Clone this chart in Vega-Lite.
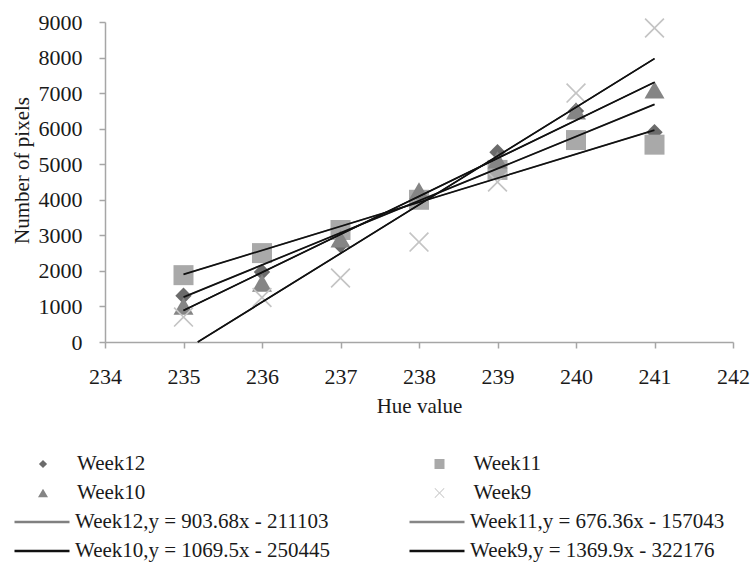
{
  "$schema": "https://vega.github.io/schema/vega-lite/v6.json",
  "width": 628,
  "height": 320,
  "autosize": "none",
  "padding": {"left": 105, "top": 22, "right": 18, "bottom": 220},
  "background": "white",
  "config": {
    "view": {"stroke": null},
    "font": "Liberation Serif",
    "axis": {"grid": false}
  },
  "datasets": {
    "points": [
      {"series": "Week12", "hue": 235, "pixels": 1300},
      {"series": "Week12", "hue": 236, "pixels": 1970},
      {"series": "Week12", "hue": 237, "pixels": 2730},
      {"series": "Week12", "hue": 238, "pixels": 4080},
      {"series": "Week12", "hue": 239, "pixels": 5340},
      {"series": "Week12", "hue": 240, "pixels": 6500},
      {"series": "Week12", "hue": 241, "pixels": 5900},
      {"series": "Week11", "hue": 235, "pixels": 1880},
      {"series": "Week11", "hue": 236, "pixels": 2500},
      {"series": "Week11", "hue": 237, "pixels": 3150},
      {"series": "Week11", "hue": 238, "pixels": 4000},
      {"series": "Week11", "hue": 239, "pixels": 4840},
      {"series": "Week11", "hue": 240, "pixels": 5680},
      {"series": "Week11", "hue": 241, "pixels": 5550},
      {"series": "Week10", "hue": 235, "pixels": 1010},
      {"series": "Week10", "hue": 236, "pixels": 1660},
      {"series": "Week10", "hue": 237, "pixels": 2900},
      {"series": "Week10", "hue": 238, "pixels": 4250},
      {"series": "Week10", "hue": 239, "pixels": 5120},
      {"series": "Week10", "hue": 240, "pixels": 6500},
      {"series": "Week10", "hue": 241, "pixels": 7090},
      {"series": "Week9", "hue": 235, "pixels": 700},
      {"series": "Week9", "hue": 236, "pixels": 1250},
      {"series": "Week9", "hue": 237, "pixels": 1800},
      {"series": "Week9", "hue": 238, "pixels": 2810},
      {"series": "Week9", "hue": 239, "pixels": 4500},
      {"series": "Week9", "hue": 240, "pixels": 7000},
      {"series": "Week9", "hue": 241, "pixels": 8830}
    ],
    "trends": [
      {"equation": "Week12,y = 903.68x - 211103", "hue": 235, "pixels": 1261.8},
      {"equation": "Week12,y = 903.68x - 211103", "hue": 241, "pixels": 6683.9},
      {"equation": "Week11,y = 676.36x - 157043", "hue": 235, "pixels": 1901.6},
      {"equation": "Week11,y = 676.36x - 157043", "hue": 241, "pixels": 5959.8},
      {"equation": "Week10,y = 1069.5x - 250445", "hue": 235, "pixels": 887.5},
      {"equation": "Week10,y = 1069.5x - 250445", "hue": 241, "pixels": 7304.5},
      {"equation": "Week9,y = 1369.9x - 322176", "hue": 235.182, "pixels": 0},
      {"equation": "Week9,y = 1369.9x - 322176", "hue": 241, "pixels": 7969.9}
    ]
  },
  "resolve": {
    "scale": {"color": "independent", "shape": "independent"}
  },
  "encoding": {
    "x": {
      "field": "hue",
      "type": "quantitative",
      "scale": {"domain": [234, 242], "nice": false, "zero": false},
      "axis": {
        "values": [234, 235, 236, 237, 238, 239, 240, 241, 242],
        "format": "d",
        "title": "Hue value",
        "titleFontSize": 21,
        "titleFontWeight": "normal",
        "titleColor": "#1a1a1a",
        "titlePadding": 8,
        "labelFontSize": 22,
        "labelColor": "#1a1a1a",
        "labelPadding": 18,
        "labelFlush": false,
        "labelOverlap": false,
        "domainColor": "#a6a6a6",
        "domainWidth": 1.5,
        "tickColor": "#a6a6a6",
        "tickWidth": 1.5,
        "tickSize": 6
      }
    },
    "y": {
      "field": "pixels",
      "type": "quantitative",
      "scale": {"domain": [0, 9000], "nice": false},
      "axis": {
        "values": [0, 1000, 2000, 3000, 4000, 5000, 6000, 7000, 8000, 9000],
        "format": "d",
        "title": "Number of pixels",
        "titleFontSize": 21,
        "titleFontWeight": "normal",
        "titleColor": "#1a1a1a",
        "titlePadding": 6,
        "titleY": 148,
        "labelFontSize": 22,
        "labelColor": "#1a1a1a",
        "labelPadding": 17,
        "labelFlush": false,
        "labelOverlap": false,
        "domainColor": "#a6a6a6",
        "domainWidth": 1.5,
        "tickColor": "#a6a6a6",
        "tickWidth": 1.5,
        "tickSize": 6
      }
    }
  },
  "layer": [
    {
      "data": {"name": "points"},
      "mark": {"type": "point", "filled": true, "opacity": 1, "strokeWidth": 0, "size": 400},
      "encoding": {
        "shape": {
          "field": "series",
          "type": "nominal",
          "scale": {
            "domain": ["Week12", "Week10", "Week11", "Week9"],
            "range": [
              "M-0.82,0L0,-0.82L0.82,0L0,0.82Z",
              "triangle-up",
              "square",
              "M-1,-0.88L-0.88,-1L0,-0.12L0.88,-1L1,-0.88L0.12,0L1,0.88L0.88,1L0,0.12L-0.88,1L-1,0.88L-0.12,0Z"
            ]
          },
          "legend": {
            "orient": "none", "legendX": -72.5, "legendY": 427.5,
            "title": null, "columns": 2, "columnPadding": 283.5, "rowPadding": 0,
            "clipHeight": 29, "symbolSize": 100, "labelOffset": 23.5, "padding": 0,
            "labelFont": "Liberation Serif", "labelFontSize": 21, "labelColor": "#1a1a1a", "labelLimit": 400
          }
        },
        "color": {
          "field": "series",
          "type": "nominal",
          "scale": {
            "domain": ["Week12", "Week10", "Week11", "Week9"],
            "range": ["#6b6b6b", "#858585", "#a9a9a9", "#c4c4c4"]
          },
          "legend": {
            "orient": "none", "legendX": -72.5, "legendY": 427.5,
            "title": null, "columns": 2, "columnPadding": 283.5, "rowPadding": 0,
            "clipHeight": 29, "symbolSize": 100, "labelOffset": 23.5, "padding": 0,
            "labelFont": "Liberation Serif", "labelFontSize": 21, "labelColor": "#1a1a1a", "labelLimit": 400
          }
        }
      }
    },
    {
      "data": {"name": "trends"},
      "mark": {"type": "line", "strokeWidth": 1.3},
      "encoding": {
        "color": {
          "field": "equation",
          "type": "nominal",
          "scale": {
            "domain": [
              "Week12,y = 903.68x - 211103",
              "Week10,y = 1069.5x - 250445",
              "Week11,y = 676.36x - 157043",
              "Week9,y = 1369.9x - 322176"
            ],
            "range": ["#808080", "#111111", "#868686", "#111111"]
          },
          "legend": {
            "orient": "none", "legendX": -92, "legendY": 485.5,
            "title": null, "columns": 2, "columnPadding": 77, "rowPadding": 0,
            "clipHeight": 29, "symbolType": "stroke", "symbolSize": 3025,
            "symbolStrokeWidth": 2.6, "labelOffset": 4, "padding": 0,
            "labelFont": "Liberation Serif", "labelFontSize": 21, "labelColor": "#1a1a1a", "labelLimit": 400
          }
        }
      }
    },
    {
      "data": {"name": "trends"},
      "mark": {"type": "line", "strokeWidth": 1.7, "color": "#111111"},
      "encoding": {
        "detail": {"field": "equation", "type": "nominal"}
      }
    }
  ]
}
